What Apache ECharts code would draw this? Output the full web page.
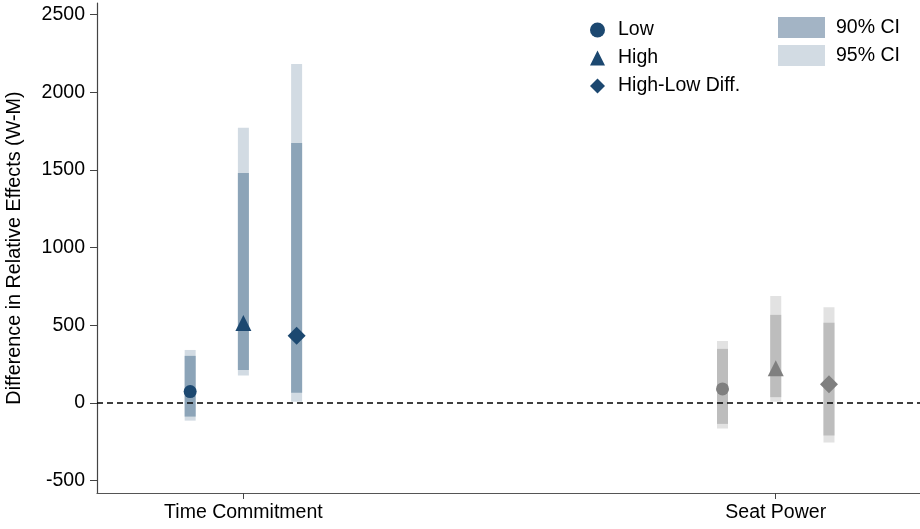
<!DOCTYPE html>
<html>
<head>
<meta charset="utf-8">
<script src="https://cdn.jsdelivr.net/npm/echarts@6/dist/echarts.min.js"></script>
<style>
  html, body { margin: 0; padding: 0; background: #ffffff; }
  #chart { width: 920px; height: 529px; }
</style>
</head>
<body>
<div id="chart"></div>
<script>
// Categories and tick labels
const groups = ['Time Commitment', 'Seat Power'];
const yTicks = [-500, 0, 500, 1000, 1500, 2000, 2500];

// Point estimates per group
const estLow = [73, 90];
const estHigh = [515, 223];
const estDiff = [433, 120];

// Confidence intervals [lower, upper] per group
const ci90Low = [[-88, 303], [-135, 348]];
const ci95Low = [[-114, 341], [-165, 399]];
const ci90High = [[212, 1481], [37, 567]];
const ci95High = [[176, 1771], [8, 689]];
const ci90Diff = [[66, 1674], [-210, 517]];
const ci95Diff = [[8, 2183], [-255, 616]];

const FONT = "'Liberation Sans', Arial, Helvetica, sans-serif";
const OFFSETS = [-0.1, 0, 0.1];
const MARKER = ['#1c4870', '#7f7f7f'];
const BAR90 = ['#8ca4b8', '#bdbdbd'];
const BAR95 = ['#d2dbe3', '#e2e2e2'];
const AXIS = '#444444';

function xPos(g, k) { return g + 1 + OFFSETS[k]; }

function ciData(list) {
  const out = [];
  list.forEach(function (ci, k) {
    ci.forEach(function (r, g) { out.push([xPos(g, k), r[0], r[1], g]); });
  });
  return out;
}

function pointData(vals, k) {
  return vals.map(function (v, g) {
    return { value: [xPos(g, k), v], itemStyle: { color: MARKER[g] } };
  });
}

function ciSeries(name, list, palette, z) {
  return {
    name: name,
    type: 'custom',
    z: z,
    data: ciData(list),
    encode: { x: 0, y: [1, 2] },
    renderItem: function (params, api) {
      const top = api.coord([api.value(0), api.value(2)]);
      const bot = api.coord([api.value(0), api.value(1)]);
      const w = 11;
      return {
        type: 'rect',
        shape: { x: top[0] - w / 2, y: top[1], width: w, height: bot[1] - top[1] },
        style: { fill: palette[api.value(3)] }
      };
    }
  };
}

function pointSeries(name, vals, k, symbol, size) {
  return {
    name: name,
    type: 'scatter',
    z: 10,
    symbol: symbol,
    symbolSize: size,
    itemStyle: { color: MARKER[0], opacity: 1 },
    data: pointData(vals, k)
  };
}

const chart = echarts.init(document.getElementById('chart'));
chart.setOption({
  animation: false,
  backgroundColor: '#ffffff',
  textStyle: { fontFamily: FONT },
  grid: { left: 97, right: 0, top: 3, bottom: 36, containLabel: false, outerBoundsMode: 'none' },
  xAxis: {
    type: 'value',
    min: 0.725,
    max: 2.271,
    axisLine: { show: true, onZero: false, lineStyle: { color: '#555555', width: 1.2 } },
    axisTick: { show: true, customValues: [1, 2], length: 6, lineStyle: { color: AXIS } },
    axisLabel: {
      customValues: [1, 2],
      formatter: function (v) { return groups[Math.round(v) - 1]; },
      color: '#000000', fontSize: 19.5, fontFamily: FONT, margin: 10
    },
    splitLine: { show: false }
  },
  yAxis: {
    type: 'value',
    min: -580,
    max: 2575,
    name: 'Difference in Relative Effects (W-M)',
    nameLocation: 'middle',
    nameGap: 72,
    nameTextStyle: { color: '#000000', fontSize: 19.8, fontFamily: FONT },
    axisLine: { show: true, onZero: false, lineStyle: { color: AXIS, width: 1.2 } },
    axisTick: { show: true, customValues: yTicks, length: 7, lineStyle: { color: AXIS } },
    axisLabel: {
      customValues: yTicks,
      formatter: function (v) { return String(v); },
      color: '#000000', fontSize: 19.5, fontFamily: FONT, margin: 12
    },
    splitLine: { show: false }
  },
  legend: [
    {
      orient: 'vertical',
      left: 590,
      top: 20,
      padding: 0,
      itemWidth: 15,
      itemHeight: 15,
      itemGap: 8,
      textStyle: { color: '#000000', fontSize: 19.5, fontFamily: FONT, lineHeight: 20, padding: [0, 0, 0, 8] },
      selectedMode: false,
      data: [
        { name: 'Low', icon: 'circle', itemStyle: { color: MARKER[0] } },
        { name: 'High', icon: 'triangle', itemStyle: { color: MARKER[0] } },
        { name: 'High-Low Diff.', icon: 'diamond', itemStyle: { color: MARKER[0] } }
      ]
    },
    {
      orient: 'vertical',
      left: 778,
      top: 17,
      padding: 0,
      itemWidth: 47,
      itemHeight: 21,
      itemGap: 7,
      textStyle: { color: '#000000', fontSize: 19.5, fontFamily: FONT, padding: [0, 0, 0, 6] },
      selectedMode: false,
      data: [
        { name: '90% CI', icon: 'rect', itemStyle: { color: '#a3b4c5' } },
        { name: '95% CI', icon: 'rect', itemStyle: { color: '#d2dbe3' } }
      ]
    }
  ],
  series: [
    ciSeries('95% CI', [ci95Low, ci95High, ci95Diff], BAR95, 2),
    ciSeries('90% CI', [ci90Low, ci90High, ci90Diff], BAR90, 3),
    {
      name: 'zero',
      type: 'line',
      data: [],
      z: 8,
      markLine: {
        silent: true,
        symbol: ['none', 'none'],
        label: { show: false },
        lineStyle: { color: '#000000', type: [6, 4], width: 1.6 },
        data: [{ yAxis: 0 }]
      }
    },
    pointSeries('Low', estLow, 0, 'circle', 13),
    pointSeries('High', estHigh, 1, 'triangle', 16),
    pointSeries('High-Low Diff.', estDiff, 2, 'diamond', 18)
  ]
});
</script>
</body>
</html>
